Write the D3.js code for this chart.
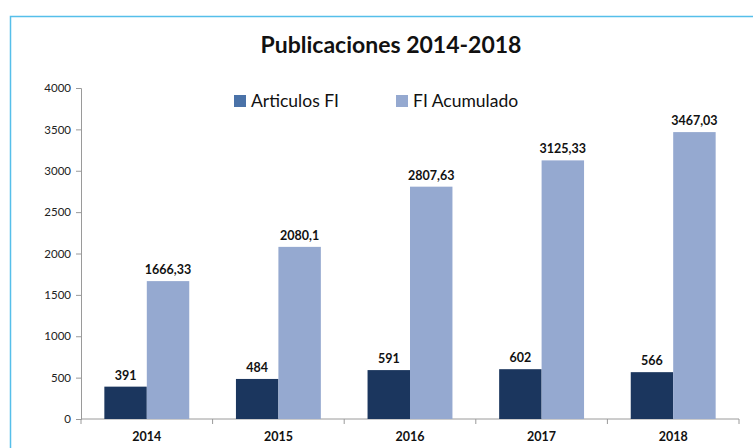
<!DOCTYPE html>
<html>
<head>
<meta charset="utf-8">
<script src="https://cdn.jsdelivr.net/npm/d3@7"></script>
<style>
  body { margin: 0; background: #fff; }
  svg { display: block; font-family: Lato, "Open Sans", sans-serif; }
</style>
</head>
<body>
<svg width="753" height="448"></svg>
<script>
// data
var years = ["2014", "2015", "2016", "2017", "2018"];
var seriesNames = ["Articulos FI", "FI Acumulado"];
var articulos = [391, 484, 591, 602, 566];
var acumulado = [1666.33, 2080.1, 2807.63, 3125.33, 3467.03];
var yTicks = [0, 500, 1000, 1500, 2000, 2500, 3000, 3500, 4000];

var barColors = ["#1b365e", "#95a9d0"];
var legendColors = ["#4a72a8", "#95a9d0"];

var svg = d3.select("svg");

// outer frame (runs off the right and bottom edge)
svg.append("rect")
  .attr("x", 10.5).attr("y", 16.5)
  .attr("width", 800).attr("height", 500)
  .attr("fill", "none")
  .attr("stroke", "#56bfea")
  .attr("stroke-width", 1.5);

svg.append("text")
  .attr("x", 391).attr("y", 53)
  .attr("text-anchor", "middle")
  .attr("font-weight", "bold")
  .attr("font-size", 23)
  .attr("fill", "#111")
  .text("Publicaciones 2014-2018");

var x0 = d3.scaleBand().domain(years).range([81, 739]).padding(0);
var x1 = d3.scaleBand().domain([0, 1]).range([0, x0.bandwidth()])
  .paddingInner(0).paddingOuter(0.55);
var y = d3.scaleLinear().domain([0, 4000]).range([419, 88]);

// y axis
var yAxis = svg.append("g")
  .attr("transform", "translate(81,0)")
  .call(d3.axisLeft(y).tickValues(yTicks).tickSize(5).tickPadding(5).tickFormat(d3.format("d")));
yAxis.selectAll("path, line").attr("stroke", "#9a9a9a");
yAxis.selectAll("text").attr("font-size", 11.5).attr("fill", "#222")
  .style("font-family", "Lato, sans-serif");

// x axis with ticks at category boundaries
var xAxis = svg.append("g")
  .attr("transform", "translate(0,419)");
xAxis.append("line")
  .attr("x1", 81).attr("x2", 739)
  .attr("stroke", "#9a9a9a");
xAxis.selectAll(".bound")
  .data(years.concat(["end"]))
  .enter().append("line")
  .attr("x1", function(d, i) { return i < years.length ? x0(d) : x0.range()[1]; })
  .attr("x2", function(d, i) { return i < years.length ? x0(d) : x0.range()[1]; })
  .attr("y1", 0).attr("y2", 5)
  .attr("stroke", "#9a9a9a");
xAxis.selectAll(".yr")
  .data(years)
  .enter().append("text")
  .attr("x", function(d) { return x0(d) + x0.bandwidth() / 2; })
  .attr("y", 22)
  .attr("text-anchor", "middle")
  .attr("font-weight", "bold")
  .attr("font-size", 12.5)
  .attr("fill", "#111")
  .text(function(d) { return d; });

var rows = years.map(function(yr, i) { return { year: yr, vals: [articulos[i], acumulado[i]] }; });

var groups = svg.selectAll(".grp")
  .data(rows)
  .enter().append("g")
  .attr("transform", function(d) { return "translate(" + x0(d.year) + ",0)"; });

groups.selectAll("rect")
  .data(function(d) { return d.vals; })
  .enter().append("rect")
  .attr("x", function(d, i) { return x1(i); })
  .attr("y", function(d) { return y(d); })
  .attr("width", x1.bandwidth())
  .attr("height", function(d) { return y(0) - y(d); })
  .attr("fill", function(d, i) { return barColors[i]; });

groups.selectAll("text")
  .data(function(d) { return d.vals; })
  .enter().append("text")
  .attr("x", function(d, i) { return x1(i) + x1.bandwidth() / 2; })
  .attr("y", function(d) { return y(d) - 7; })
  .attr("text-anchor", "middle")
  .attr("font-weight", "bold")
  .attr("font-size", 12.5)
  .attr("fill", "#111")
  .text(function(d) { return String(d).replace(".", ","); });

// legend
var legendX = [234, 396];
var legend = svg.selectAll(".leg")
  .data(seriesNames)
  .enter().append("g")
  .attr("transform", function(d, i) { return "translate(" + legendX[i] + ",95)"; });
legend.append("rect")
  .attr("width", 12).attr("height", 12)
  .attr("fill", function(d, i) { return legendColors[i]; });
legend.append("text")
  .attr("x", 17).attr("y", 12)
  .attr("font-size", 17.5)
  .attr("fill", "#111")
  .text(function(d) { return d; });
</script>
</body>
</html>
